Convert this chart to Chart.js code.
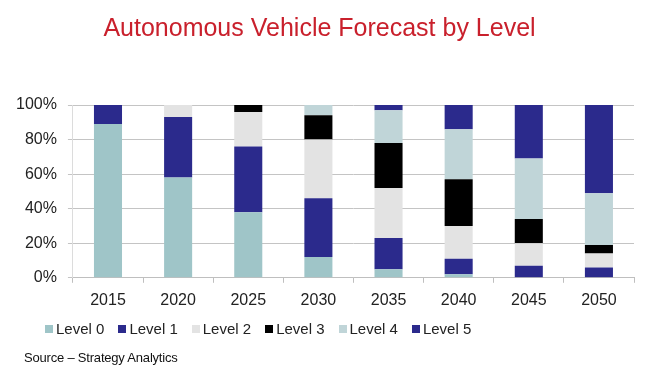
<!DOCTYPE html>
<html>
<head>
<meta charset="utf-8">
<script src="https://cdn.jsdelivr.net/npm/chart.js@4.4.0/dist/chart.umd.min.js"></script>
<style>
  body { margin: 0; background: #fff; }
  #wrap { position: relative; width: 662px; height: 371px; font-family: "Liberation Sans", Arial, sans-serif; }
  #legend { position: absolute; left: 45px; top: 320px; display: flex; font-size: 15px; color: #222; }
  #legend .item { display: flex; align-items: center; margin-right: 14px; }
  #legend .box { width: 8px; height: 8px; margin-right: 3px; }
  #source { position: absolute; left: 24px; top: 350px; font-size: 13px; color: #111; letter-spacing: -0.2px; }
</style>
</head>
<body>
<div id="wrap">
  <canvas id="myChart" width="662" height="371"></canvas>
  <div id="legend"></div>
  <div id="source">Source – Strategy Analytics</div>
</div>
<script>
// years on x axis
const years = ['2015', '2020', '2025', '2030', '2035', '2040', '2045', '2050'];
const levelNames = ['Level 0', 'Level 1', 'Level 2', 'Level 3', 'Level 4', 'Level 5'];
const levelColors = ['#9fc5c8', '#2b2a8c', '#e3e3e3', '#000000', '#c0d5d8', '#2b2a8c'];

// share of vehicles (%) per level
const level0 = [89, 58, 38, 12, 5, 2, 0, 0];
const level1 = [11, 35, 38, 34, 18, 9, 7, 6];
const level2 = [0, 7, 20, 34, 29, 19, 13, 8];
const level3 = [0, 0, 4, 14, 26, 27, 14, 5];
const level4 = [0, 0, 0, 6, 19, 29, 35, 30];
const level5 = [0, 0, 0, 0, 3, 14, 31, 51];

const yTicks = [0, 20, 40, 60, 80, 100];

const series = [level0, level1, level2, level3, level4, level5];

const data = {
    labels: years,
    datasets: series.map((values, i) => ({
        label: levelNames[i],
        data: values,
        backgroundColor: levelColors[i],
        borderWidth: 0,
        barPercentage: 0.4,
        categoryPercentage: 1.0
    }))
};

const config = {
    type: 'bar',
    data: data,
    options: {
        responsive: false,
        animation: false,
        layout: {
            padding: { left: 5, right: 28, bottom: 53 }
        },
        scales: {
            x: {
                stacked: true,
                grid: {
                    display: true,
                    drawOnChartArea: false,
                    tickLength: 5,
                    color: '#bfbfbf'
                },
                border: { color: '#bfbfbf' },
                ticks: {
                    color: '#222',
                    padding: 8,
                    font: { family: 'Liberation Sans', size: 16 }
                }
            },
            y: {
                stacked: true,
                min: 0,
                max: 100,
                afterBuildTicks: axis => {
                    axis.ticks = yTicks.map(v => ({ value: v }));
                },
                grid: {
                    color: '#c4c4c4',
                    tickLength: 5
                },
                border: { color: '#dcdcdc' },
                ticks: {
                    color: '#222',
                    padding: 11,
                    font: { family: 'Liberation Sans', size: 16 },
                    callback: value => value + '%'
                }
            }
        },
        plugins: {
            legend: { display: false },
            tooltip: { enabled: false },
            title: {
                display: true,
                text: 'Autonomous Vehicle Forecast by Level',
                color: '#c9202c',
                font: { family: 'Liberation Sans', size: 25, weight: 'normal' },
                padding: { top: 14, bottom: 61 }
            }
        }
    }
};

new Chart(document.getElementById('myChart'), config);

// legend built from the same names/colors
const legendEl = document.getElementById('legend');
levelNames.forEach((name, i) => {
    const item = document.createElement('div');
    item.className = 'item';
    const box = document.createElement('span');
    box.className = 'box';
    box.style.background = levelColors[i];
    const txt = document.createElement('span');
    txt.textContent = name;
    item.appendChild(box);
    item.appendChild(txt);
    legendEl.appendChild(item);
});
</script>
</body>
</html>
